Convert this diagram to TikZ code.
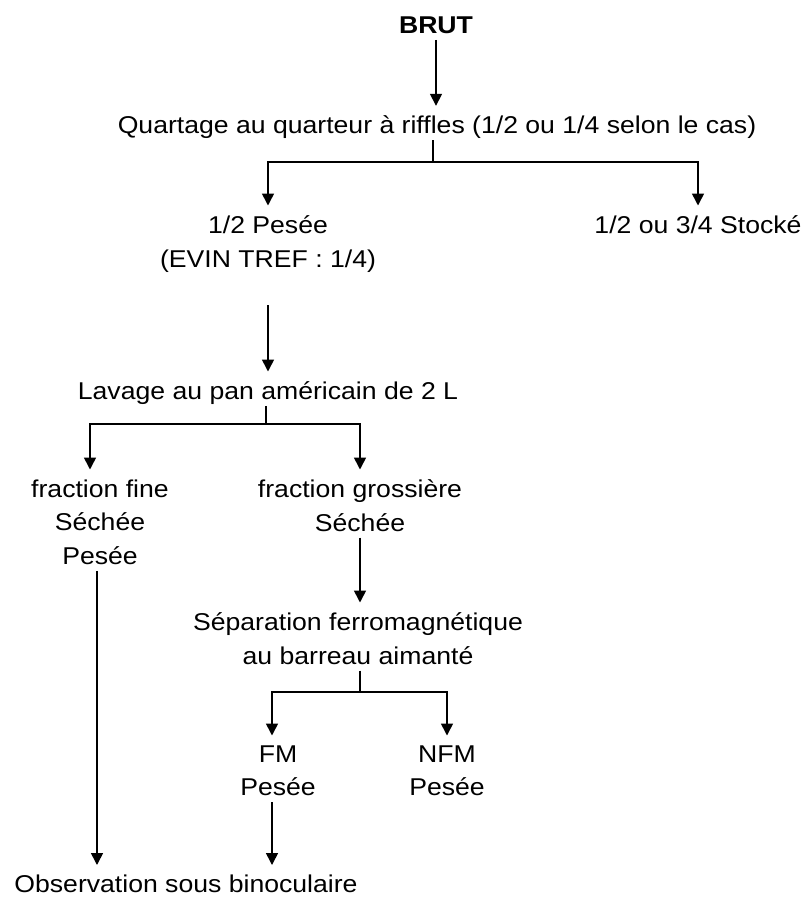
\documentclass[tikz,border=0pt]{standalone}
\usepackage{fontspec}
\setmainfont{Liberation Sans}[FakeStretch=1.095]
\usepackage{tikz}
\usetikzlibrary{arrows.meta}
\pgfdeclarelayer{edgelayer}
\pgfdeclarelayer{nodelayer}
\pgfsetlayers{edgelayer,nodelayer,main}
\tikzstyle{txt}=[anchor=north,align=center,inner xsep=0pt,inner ysep=6pt,font=\fontsize{24.3}{33.5}\selectfont]
\tikzstyle{txtline}=[txt,text depth=0pt]
\tikzstyle{flow}=[draw=black,line width=1.6pt]
\tikzstyle{arrow}=[flow,-{Triangle[width=12pt,length=12pt]},shorten >=4pt]

\begin{document}
\begin{tikzpicture}[x=1pt,y=-1pt]
					\useasboundingbox (0,0) rectangle (802,897);
					\begin{pgfonlayer}{nodelayer}
						\node [style=txtline,font=\fontsize{24.3}{33.5}\selectfont\bfseries] (0) at (436.000,10.800) {BRUT};
						\node [style=txtline] (1) at (437.000,109.800) {Quartage au quarteur à riffles (1/2 ou 1/4 selon le cas)};
						\node [style=txt] (2) at (268.000,209.500) {1/2 Pesée\\(EVIN TREF : 1/4)};
						\node [style=txtline] (3) at (698.000,209.500) {1/2 ou 3/4 Stocké};
						\node [style=txtline] (4) at (268.000,375.500) {Lavage au pan américain de 2 L};
						\node [style=txt] (5) at (100.000,473.500) {fraction fine\\Séchée\\Pesée};
						\node [style=txt] (6) at (360.000,473.500) {fraction grossière\\Séchée};
						\node [style=txt] (7) at (358.000,606.500) {Séparation ferromagnétique\\au barreau aimanté};
						\node [style=txt] (8) at (278.000,739.500) {FM\\Pesée};
						\node [style=txt] (9) at (447.000,739.500) {NFM\\Pesée};
						\node [style=txtline] (10) at (186.000,869.000) {Observation sous binoculaire};
					\end{pgfonlayer}
					\begin{pgfonlayer}{edgelayer}
						\coordinate (11) at (433.000,161.700);
						\coordinate (12) at (265.700,424.000);
						\coordinate (13) at (90.000,424.000);
						\coordinate (14) at (360.000,692.000);
						\coordinate (15) at (272.000,692.000);
						\draw [style=arrow] (0) -- (0 |- 1.north);
						\draw [style=flow] (1.south -| 11) -- (11);
						\draw [style=arrow] (11) -| (2.north);
						\draw [style=arrow] (11) -| (3.north);
						\draw [style=arrow, shorten <=27pt] (2) -- (2 |- 4.north);
						\draw [style=flow] (4.south -| 12) -- (12);
						\draw [style=arrow] (12) -- (13) -- (13 |- 5.north);
						\draw [style=arrow] (12) -| (6.north);
						\draw [style=arrow] ([xshift=-3pt]5.south) -- ([xshift=-3pt]5.south |- 10.north);
						\draw [style=arrow] (6) -- (6 |- 7.north);
						\draw [style=flow] (7.south -| 14) -- (14);
						\draw [style=arrow] (14) -- (15) -- (15 |- 8.north);
						\draw [style=arrow] (14) -| (9.north);
						\draw [style=arrow] (8.south -| 15) -- (15 |- 10.north);
					\end{pgfonlayer}
				\end{tikzpicture}
\end{document}
